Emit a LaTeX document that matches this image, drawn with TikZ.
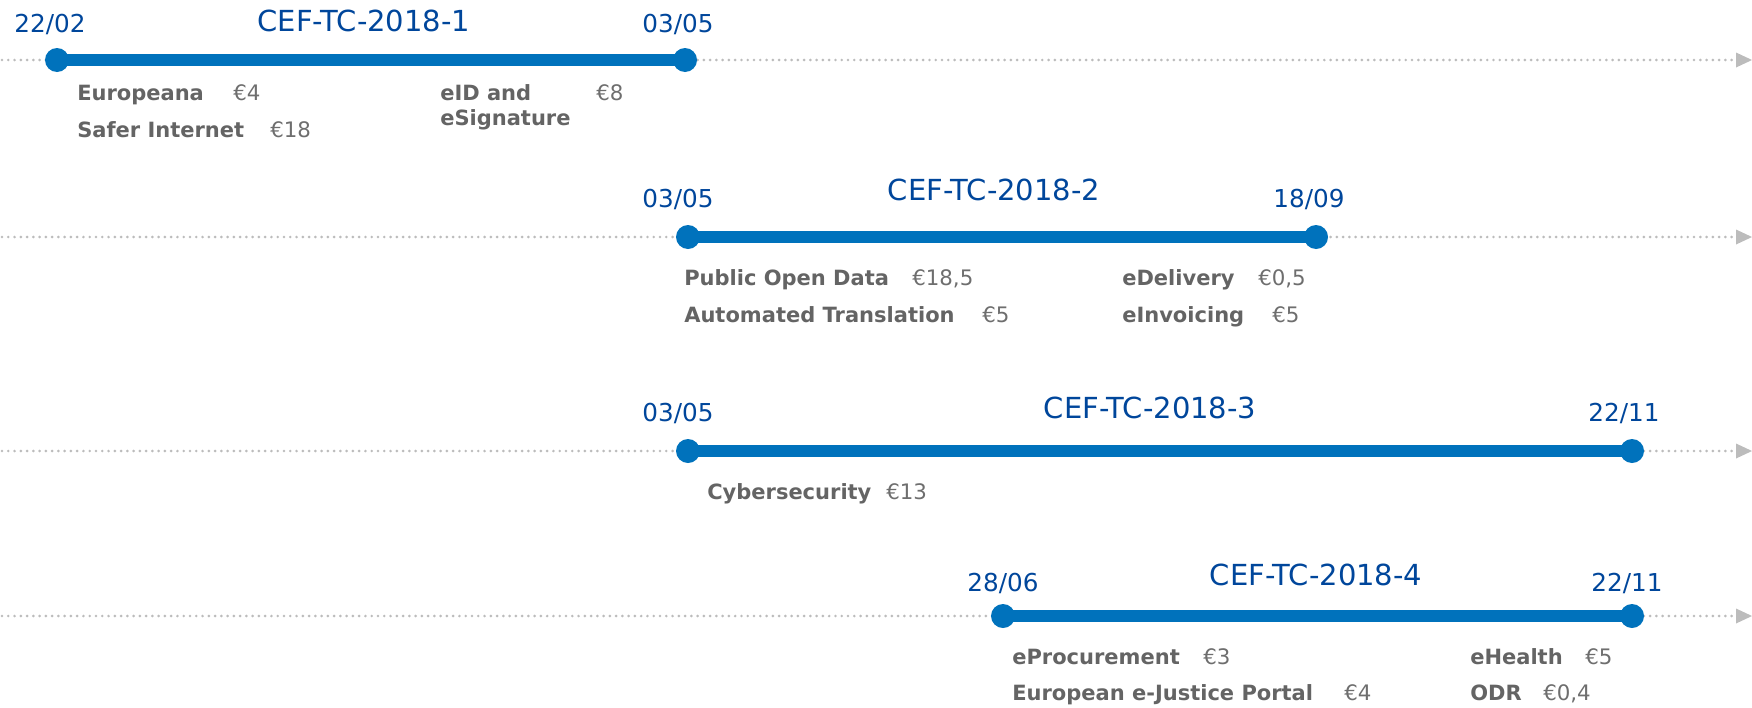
\documentclass[tikz,border=0pt]{standalone}
\usepackage{fontspec}
\setmainfont{DejaVu Sans}
\begin{document}
\begin{tikzpicture}[x=0.75pt,y=-0.75pt,
  dotline/.style={draw=dotgray, line width=2.2pt, line cap=round, dash pattern=on 0pt off 4.7pt},
  tip/.style={fill=dotgray},
  dotc/.style={circle, fill=barblue, minimum size=18pt, inner sep=0pt},
  barline/.style={draw=barblue, line width=9pt},
  datetxt/.style={font=\fontsize{18.5}{22}\selectfont, text=txtblue, anchor=base, inner sep=0pt},
  titletxt/.style={font=\fontsize{21.75}{26}\selectfont, text=txtblue, anchor=base, inner sep=0pt},
  lbl/.style={font=\bfseries\fontsize{15.75}{19}\selectfont, text=lblgray, anchor=base west, inner sep=0pt},
  amt/.style={font=\fontsize{16}{19}\selectfont, text=amtgray, anchor=base west, inner sep=0pt}]
\definecolor{dotgray}{RGB}{188,188,188}
\definecolor{barblue}{RGB}{0,114,188}
\definecolor{txtblue}{RGB}{0,70,155}
\definecolor{lblgray}{RGB}{100,100,100}
\definecolor{amtgray}{RGB}{110,110,110}
\useasboundingbox (0,0) rectangle (1752,707);
% timelines (dotted) with arrow tips
\foreach \n/\y in {1/60,2/237,3/451,4/616}{
  \coordinate (l\n) at (2,\y);
  \coordinate (r\n) at (1733,\y);
  \coordinate (e\n) at (1752,\y);
  \draw[dotline] (l\n) -- (r\n);
  \fill[tip] (e\n) -- ++(-16,-7.5) -- ++(0,15) -- cycle;
}
% row 1
\node[dotc] (s1) at (57,60) {};
\node[dotc] (f1) at (685,60) {};
\draw[barline] (s1.center) -- (f1.center);
\node[titletxt] (t1) at (364,31) {CEF-TC-2018-1};
\node[datetxt] (d1a) at (50,32) {22/02};
\node[datetxt] (d1b) at (678,32) {03/05};
\node[lbl] (p1a) at (77,100) {Europeana};
\node[amt] (m1a) at (233,100) {€4};
\node[lbl] (p1b) at (77,137) {Safer Internet};
\node[amt] (m1b) at (270,137) {€18};
\node[lbl] (p1c) at (440,100) {eID and};
\node[lbl] (p1d) at (440,125) {eSignature};
\node[amt] (m1c) at (596,100) {€8};
% row 2
\node[dotc] (s2) at (688,237) {};
\node[dotc] (f2) at (1316,237) {};
\draw[barline] (s2.center) -- (f2.center);
\node[titletxt] (t2) at (994,200) {CEF-TC-2018-2};
\node[datetxt] (d2a) at (678,207) {03/05};
\node[datetxt] (d2b) at (1309,207) {18/09};
\node[lbl] (p2a) at (684,285) {Public Open Data};
\node[amt] (m2a) at (912,285) {€18,5};
\node[lbl] (p2b) at (684,322) {Automated Translation};
\node[amt] (m2b) at (982,322) {€5};
\node[lbl] (p2c) at (1122,285) {eDelivery};
\node[amt] (m2c) at (1258,285) {€0,5};
\node[lbl] (p2d) at (1122,322) {eInvoicing};
\node[amt] (m2d) at (1272,322) {€5};
% row 3
\node[dotc] (s3) at (688,451) {};
\node[dotc] (f3) at (1632,451) {};
\draw[barline] (s3.center) -- (f3.center);
\node[titletxt] (t3) at (1150,418) {CEF-TC-2018-3};
\node[datetxt] (d3a) at (678,421) {03/05};
\node[datetxt] (d3b) at (1624,421) {22/11};
\node[lbl] (p3a) at (707,499) {Cybersecurity};
\node[amt] (m3a) at (886,499) {€13};
% row 4
\node[dotc] (s4) at (1003,616) {};
\node[dotc] (f4) at (1632,616) {};
\draw[barline] (s4.center) -- (f4.center);
\node[titletxt] (t4) at (1316,585) {CEF-TC-2018-4};
\node[datetxt] (d4a) at (1003,591) {28/06};
\node[datetxt] (d4b) at (1627,591) {22/11};
\node[lbl] (p4a) at (1012,664) {eProcurement};
\node[amt] (m4a) at (1203,664) {€3};
\node[lbl] (p4b) at (1012,700) {European e-Justice Portal};
\node[amt] (m4b) at (1344,700) {€4};
\node[lbl] (p4c) at (1470,664) {eHealth};
\node[amt] (m4c) at (1585,664) {€5};
\node[lbl] (p4d) at (1470,700) {ODR};
\node[amt] (m4d) at (1543,700) {€0,4};
\end{tikzpicture}
\end{document}
